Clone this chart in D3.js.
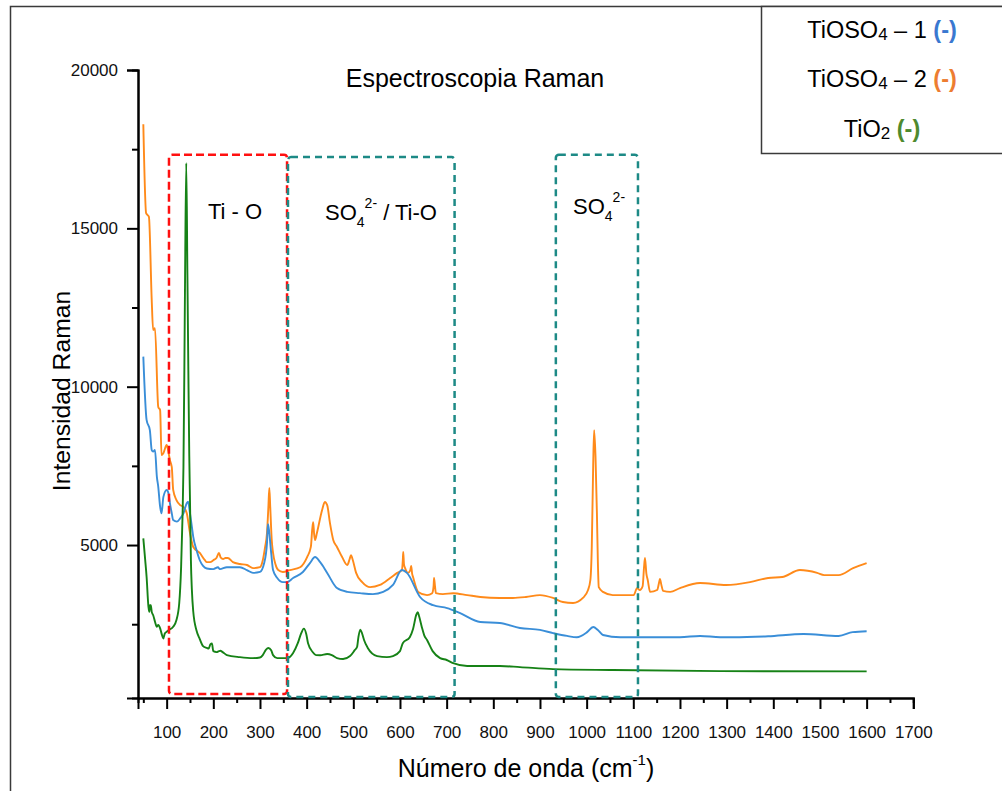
<!DOCTYPE html>
<html>
<head>
<meta charset="utf-8">
<script src="https://cdn.jsdelivr.net/npm/d3@7"></script>
<style>
  body { margin: 0; background: #fff; }
  svg { display: block; font-family: Arial, "Liberation Sans", sans-serif; }
</style>
</head>
<body>
<svg id="chart" width="1002" height="791"></svg>
<script>
// espectros Raman: [numero de onda, intensidad]
var tioso4_2 = [[50,18290],[56,15480],[62,15360],[68,12740],[71,11790],[75,11850],[82,9360],[86,9260],[89,7840],[93,7900],[100,8160],[103,8000],[107,7680],[111,7460],[114,6740],[121,6420],[129,6260],[136,6200],[143,6010],[150,5380],[157,4940],[171,4750],[182,4520],[186,4460],[193,4460],[200,4520],[207,4600],[212,4750],[216,4600],[221,4560],[226,4590],[231,4590],[242,4460],[257,4400],[272,4370],[285,4270],[300,4300],[306,4520],[311,4940],[315,5380],[318,6200],[320,6800],[322,6200],[325,5200],[328,4750],[333,4400],[339,4210],[349,4150],[364,4210],[386,4300],[401,4620],[409,4940],[412,5500],[414,5720],[416,5350],[418,5160],[422,5380],[433,6100],[439,6360],[444,6260],[450,5690],[457,5160],[465,4940],[476,4620],[487,4370],[492,4550],[495,4680],[499,4520],[506,4120],[519,3830],[536,3670],[557,3740],[579,3960],[594,4120],[604,4210],[606,4500],[607,4780],[608.5,4400],[611,4270],[617,4120],[622,4200],[624,4340],[626,4100],[628,3990],[639,3520],[658,3420],[669,3480],[672,3700],[673,3960],[675,3700],[677,3480],[692,3450],[714,3480],[744,3420],[772,3360],[814,3330],[842,3330],[870,3360],[900,3420],[928,3330],[949,3200],[971,3170],[992,3330],[1003,3580],[1008,3900],[1011,4940],[1014,7500],[1016,8630],[1019,7800],[1022,6010],[1024,4500],[1026,3670],[1035,3520],[1056,3420],[1078,3420],[1101,3420],[1108,3640],[1114,3580],[1120,3700],[1123,4300],[1125,4590],[1128,4100],[1131,3890],[1136,3520],[1151,3580],[1155,3800],[1157,3930],[1160,3750],[1164,3550],[1179,3520],[1200,3640],[1243,3800],[1299,3740],[1350,3830],[1389,3960],[1419,3990],[1457,4210],[1494,4120],[1509,4050],[1540,4050],[1571,4270],[1600,4430]];

var tioso4_1 = [[50,10950],[57,8950],[64,8630],[68,8000],[71,7950],[75,8000],[79,7160],[82,6840],[86,6210],[89,6000],[93,6520],[100,6740],[104,6630],[107,6320],[111,6000],[114,5790],[122,5740],[129,5840],[136,6000],[143,6320],[146,6370],[150,6000],[154,5580],[157,5260],[164,4840],[171,4520],[178,4340],[186,4260],[200,4240],[210,4300],[214,4240],[229,4300],[257,4300],[272,4210],[285,4120],[300,4150],[309,4430],[315,5060],[317,5660],[319,5500],[324,4750],[328,4210],[337,3960],[349,3830],[358,3830],[371,3960],[392,4150],[407,4430],[418,4620],[429,4460],[444,4120],[465,3640],[487,3520],[514,3480],[542,3450],[564,3520],[585,3740],[604,4210],[615,4120],[643,3360],[671,3100],[701,3010],[729,2850],[772,2570],[814,2540],[857,2380],[900,2320],[928,2220],[958,2130],[979,2090],[1001,2250],[1014,2410],[1024,2320],[1035,2160],[1072,2090],[1108,2090],[1157,2090],[1200,2090],[1243,2130],[1286,2090],[1313,2090],[1389,2120],[1465,2190],[1540,2130],[1570,2250],[1600,2280]];

var tio2 = [[50,5210],[54,4530],[57,4000],[61,3050],[63,2890],[64,3100],[66,3100],[68,2890],[71,2790],[75,2580],[79,2420],[82,2480],[86,2370],[89,2210],[93,2050],[96,2210],[100,2260],[104,2310],[114,2420],[121,2630],[127,3170],[131,4310],[134,5890],[136,7470],[138,10630],[139.5,13500],[142,17060],[144.5,13500],[146.5,10500],[148.5,7800],[150,6420],[152,4500],[154,3600],[157,2900],[164,2300],[171,2030],[178,1810],[186,1750],[190,1730],[194,1870],[197,1890],[200,1650],[207,1620],[212,1650],[215,1660],[220,1620],[229,1525],[257,1460],[285,1430],[300,1450],[306,1525],[313,1700],[318,1750],[324,1680],[328,1525],[337,1430],[358,1430],[371,1590],[381,1900],[388,2200],[394,2360],[399,2200],[403,1900],[413,1620],[420,1525],[429,1520],[444,1560],[454,1525],[465,1430],[478,1400],[493,1494],[503,1680],[508,1780],[511,2100],[515,2330],[519,2200],[523,2000],[531,1750],[551,1494],[572,1460],[585,1494],[600,1650],[606,1900],[621,2090],[628,2350],[635,2800],[638,2880],[641,2750],[647,2400],[652,2150],[658,2000],[670,1650],[686,1430],[700,1370],[714,1270],[744,1180],[786,1180],[814,1180],[857,1146],[928,1083],[1056,1052],[1286,1020],[1600,1010]];

var xMajorTicks = [100,200,300,400,500,600,700,800,900,1000,1100,1200,1300,1400,1500,1600,1700];
var xMinorTicks = [50,150,250,350,450,550,650,750,850,950,1050,1150,1250,1350,1450,1550,1650];
var yMajorTicks = [5000,10000,15000,20000];
var yMinorTicks = [2500,7500,12500,17500];

// zonas marcadas: desde / hasta (cm-1), tope y base (intensidad)
var zonas = [
  {nombre: "TiO", desde: 105, hasta: 358, tope: 17320, base: 300, color: "#ff1010"},
  {nombre: "SO4TiO", desde: 360, hasta: 717, tope: 17250, base: 200, color: "#1d8a86"},
  {nombre: "SO4", desde: 934, hasta: 1110, tope: 17320, base: 200, color: "#1d8a86"}
];

var svg = d3.select("#chart");

var x = d3.scaleLinear().domain([38.6, 1700]).range([138, 913.3]);
var y = d3.scaleLinear().domain([170, 20000]).range([698, 70]);

// marco exterior
svg.append("rect")
    .attr("x", 10.5).attr("y", 6.5)
    .attr("width", 1100).attr("height", 900)
    .attr("fill", "none").attr("stroke", "#3a3a3a").attr("stroke-width", 1.5);

// ejes
function styleAxis(g) {
    g.select(".domain").attr("stroke", "#000").attr("stroke-width", 2);
    g.selectAll(".tick line").attr("stroke", "#000").attr("stroke-width", 2);
    g.selectAll(".tick text").attr("fill", "#111").style("font-size", "17px");
}

svg.append("g")
    .attr("transform", "translate(0,698)")
    .call(d3.axisBottom(x).tickValues(xMinorTicks).tickSize(5).tickFormat(""))
    .call(styleAxis);
svg.append("g")
    .attr("transform", "translate(0,698)")
    .call(d3.axisBottom(x).tickValues(xMajorTicks).tickSize(11).tickPadding(17).tickFormat(d3.format("d")))
    .call(styleAxis);

svg.append("g")
    .attr("transform", "translate(138,0)")
    .call(d3.axisLeft(y).tickValues(yMinorTicks).tickSize(6).tickFormat(""))
    .call(styleAxis);
svg.append("g")
    .attr("transform", "translate(138,0)")
    .call(d3.axisLeft(y).tickValues(yMajorTicks).tickSize(11).tickPadding(9).tickFormat(d3.format("d")))
    .call(styleAxis);

// espectros
var line = d3.line()
    .x(function(d) { return x(d[0]); })
    .y(function(d) { return y(d[1]); })
    .curve(d3.curveMonotoneX);

var series = [
    {data: tioso4_2, color: "#ff8a1a"},
    {data: tioso4_1, color: "#3a8ed8"},
    {data: tio2, color: "#168216"}
];

svg.append("g").selectAll("path")
    .data(series)
    .enter().append("path")
    .attr("d", function(d) { return line(d.data); })
    .attr("fill", "none")
    .attr("stroke", function(d) { return d.color; })
    .attr("stroke-width", 1.9)
    .attr("stroke-linejoin", "round");

// recuadros discontinuos
svg.append("g").selectAll("rect")
    .data(zonas)
    .enter().append("rect")
    .attr("x", function(d) { return x(d.desde); })
    .attr("y", function(d) { return y(d.tope); })
    .attr("width", function(d) { return x(d.hasta) - x(d.desde); })
    .attr("height", function(d) { return y(d.base) - y(d.tope); })
    .attr("rx", 3)
    .attr("fill", "none")
    .attr("stroke", function(d) { return d.color; })
    .attr("stroke-width", 2.5)
    .attr("stroke-dasharray", function(d) { return d.nombre == "TiO" ? "8,4" : "7,5"; });

// etiquetas de zonas
svg.append("text")
    .attr("x", 208).attr("y", 219)
    .style("font-size", "22px")
    .text("Ti - O");

var t2 = svg.append("text").attr("x", 325).attr("y", 220).style("font-size", "22px");
t2.append("tspan").text("SO");
t2.append("tspan").attr("dy", 7).style("font-size", "14px").text("4");
t2.append("tspan").attr("dy", -19).style("font-size", "14px").text("2-");
t2.append("tspan").attr("dy", 12).text(" / Ti-O");

var t3 = svg.append("text").attr("x", 573).attr("y", 214).style("font-size", "22px");
t3.append("tspan").text("SO");
t3.append("tspan").attr("dy", 7).style("font-size", "14px").text("4");
t3.append("tspan").attr("dy", -19).style("font-size", "14px").text("2-");

// titulo y ejes
svg.append("text")
    .attr("x", 475).attr("y", 87)
    .attr("text-anchor", "middle")
    .style("font-size", "25px")
    .text("Espectroscopia Raman");

svg.append("text")
    .attr("transform", "translate(70,391) rotate(-90)")
    .attr("text-anchor", "middle")
    .style("font-size", "24.7px")
    .text("Intensidad Raman");

var xl = svg.append("text")
    .attr("x", 526).attr("y", 777)
    .attr("text-anchor", "middle")
    .style("font-size", "25px");
xl.append("tspan").text("Número de onda (cm");
xl.append("tspan").attr("dy", -12).style("font-size", "15px").text("-1");
xl.append("tspan").attr("dy", 12).text(")");

// leyenda
svg.append("rect")
    .attr("x", 761.5).attr("y", 6.5)
    .attr("width", 300).attr("height", 147)
    .attr("fill", "#fff").attr("stroke", "#3a3a3a").attr("stroke-width", 1.5);

var legendRows = [
    {name: "TiOSO", sub: "4", rest: " – 1 ", color: "#3a78d0", y: 38},
    {name: "TiOSO", sub: "4", rest: " – 2 ", color: "#ed7d31", y: 87},
    {name: "TiO", sub: "2", rest: " ", color: "#4e8a2e", y: 137}
];

legendRows.forEach(function(r) {
    var t = svg.append("text")
        .attr("x", 882).attr("y", r.y)
        .attr("text-anchor", "middle")
        .style("font-size", "23.5px");
    t.append("tspan").text(r.name);
    t.append("tspan").attr("dy", 2).style("font-size", "17px").text(r.sub);
    t.append("tspan").attr("dy", -2).text(r.rest);
    t.append("tspan").attr("fill", r.color).style("font-weight", "bold").text("(-)");
});
</script>
</body>
</html>
